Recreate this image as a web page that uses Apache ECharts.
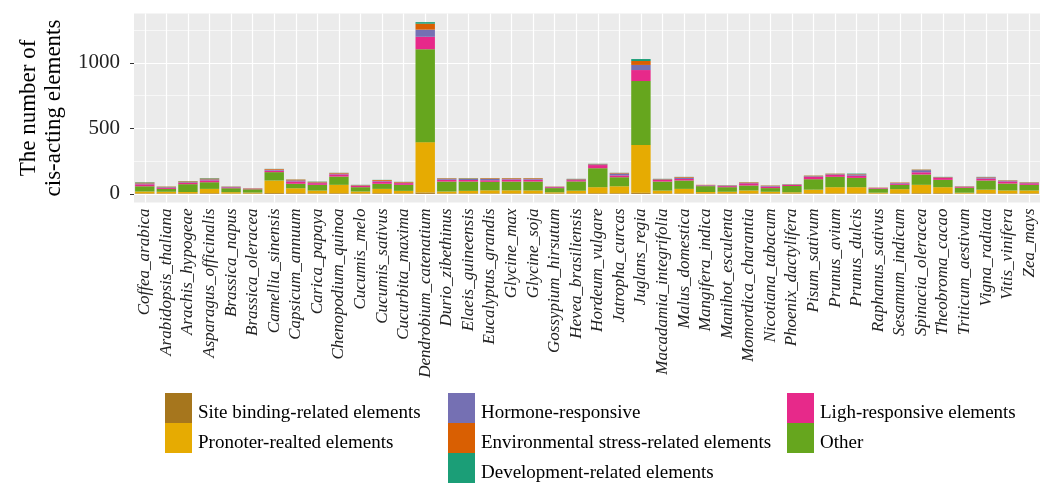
<!DOCTYPE html>
<html>
<head>
<meta charset="utf-8">
<script src="https://cdn.jsdelivr.net/npm/echarts@6/dist/echarts.min.js"></script>
<style>
  html, body { margin: 0; padding: 0; background: #fff; }
  #chart { width: 1050px; height: 484px; }
</style>
</head>
<body>
<div id="chart"></div>
<script>
// species on the x axis
var species = ['Coffea_arabica', 'Arabidopsis_thaliana', 'Arachis_hypogeae', 'Asparagus_officinalis',
  'Brassica_napus', 'Brassica_oleracea', 'Camellia_sinensis', 'Capsicum_annuum', 'Carica_papaya',
  'Chenopodium_quinoa', 'Cucumis_melo', 'Cucumis_sativus', 'Cucurbita_maxima', 'Dendrobium_catenatium',
  'Durio_zibethinus', 'Elaeis_guineensis', 'Eucalyptus_grandis', 'Glycine_max', 'Glycine_soja',
  'Gossypium_hirsutum', 'Hevea_brasiliensis', 'Hordeum_vulgare', 'Jatropha_curcas', 'Juglans_regia',
  'Macadamia_integrifolia', 'Malus_domestica', 'Mangifera_indica', 'Manihot_esculenta',
  'Momordica_charantia', 'Nicotiana_tabacum', 'Phoenix_dactylifera', 'Pisum_sativum', 'Prunus_avium',
  'Prunus_dulcis', 'Raphanus_sativus', 'Sesamum_indicum', 'Spinacia_oleracea', 'Theobroma_cacao',
  'Triticum_aestivum', 'Vigna_radiata', 'Vitis_vinifera', 'Zea_mays'];

// counts per element class
var siteBinding = [4, 4, 4, 5, 3, 4, 6, 5, 4, 5, 4, 5, 4, 10, 4, 4, 4, 4, 4, 4, 4, 5, 5, 8,
  4, 4, 4, 4, 4, 4, 4, 4, 4, 4, 3, 4, 5, 5, 3, 4, 4, 4];
var pronoter = [14, 12, 10, 33, 10, 6, 96, 38, 21, 64, 14, 33, 19, 385, 14, 19, 23, 23, 22, 8, 20, 46, 53, 366,
  21, 34, 10, 12, 22, 12, 8, 28, 47, 47, 6, 32, 64, 46, 6, 28, 22, 22];
var other = [40, 22, 60, 51, 30, 25, 64, 34, 44, 63, 33, 39, 46, 710, 76, 71, 65, 67, 68, 32, 71, 145, 69, 488,
  69, 64, 45, 35, 38, 28, 48, 80, 79, 71, 30, 33, 79, 56, 38, 70, 53, 43];
var ligh = [15, 8, 10, 14, 7, 4, 12, 18, 13, 17, 10, 18, 13, 95, 14, 12, 12, 16, 15, 7, 10, 24, 14, 84,
  12, 12, 5, 8, 17, 12, 8, 18, 15, 17, 5, 10, 17, 14, 6, 15, 16, 12];
var hormone = [7, 5, 5, 8, 3, 2, 7, 8, 5, 6, 4, 5, 4, 55, 7, 8, 10, 4, 5, 3, 6, 6, 15, 39,
  5, 10, 3, 4, 3, 4, 3, 5, 5, 10, 2, 5, 16, 5, 3, 9, 5, 4];
var environmental = [6, 4, 6, 6, 2, 2, 5, 6, 5, 5, 3, 6, 5, 45, 4, 4, 5, 5, 5, 2, 3, 3, 4, 30,
  3, 5, 2, 2, 4, 3, 2, 4, 4, 3, 2, 3, 4, 3, 2, 3, 3, 3];
var development = [3, 1, 2, 3, 1, 0, 1, 1, 2, 1, 1, 1, 1, 12, 1, 2, 1, 1, 1, 0, 1, 1, 1, 15,
  1, 1, 0, 1, 1, 1, 1, 1, 1, 3, 0, 0, 1, 1, 0, 1, 1, 1];

var yTicks = [0, 500, 1000];
var yMinorTicks = [250, 750, 1250];

var serif = '"Liberation Serif", "DejaVu Serif", serif';

// stacking order bottom -> top, like the ggplot figure
var layers = [
  { name: 'Site binding-related elements', data: siteBinding, color: '#A6761D' },
  { name: 'Pronoter-realted elements', data: pronoter, color: '#E6AB02' },
  { name: 'Other', data: other, color: '#66A61E' },
  { name: 'Ligh-responsive elements', data: ligh, color: '#E7298A' },
  { name: 'Hormone-responsive', data: hormone, color: '#7570B3' },
  { name: 'Environmental stress-related elements', data: environmental, color: '#D95F02' },
  { name: 'Development-related elements', data: development, color: '#1B9E77' }
];

var series = layers.map(function (l) {
  return {
    name: l.name,
    type: 'bar',
    stack: 'total',
    barCategoryGap: '10%',
    itemStyle: { color: l.color },
    emphasis: { disabled: true },
    z: 3,
    data: l.data
  };
});

// panel grid lines (ggplot style) drawn behind the bars
var gridLines = [];
yTicks.forEach(function (v) { gridLines.push({ yAxis: v, lineStyle: { width: 1.2 } }); });
yMinorTicks.forEach(function (v) { gridLines.push({ yAxis: v, lineStyle: { width: 0.6 } }); });
species.forEach(function (s) { gridLines.push({ xAxis: s, lineStyle: { width: 1.2 } }); });
series.push({
  type: 'line',
  data: [],
  z: 1,
  silent: true,
  markLine: {
    z: 1,
    silent: true,
    symbol: 'none',
    label: { show: false },
    animation: false,
    lineStyle: { color: '#ffffff', type: 'solid' },
    data: gridLines
  }
});

function legendCol(names, left) {
  return {
    data: names,
    orient: 'vertical',
    left: left,
    top: 393,
    bottom: 0,
    padding: 0,
    itemGap: 0,
    itemWidth: 27,
    itemHeight: 30,
    icon: 'rect',
    selectedMode: false,
    formatter: function (n) { return '{t|' + n + '}'; },
    textStyle: {
      fontFamily: serif, fontSize: 19, color: '#000',
      rich: { t: { fontFamily: serif, fontSize: 19, lineHeight: 18, color: '#000', padding: [10, 0, 0, 1] } }
    }
  };
}

var chart = echarts.init(document.getElementById('chart'), null, { renderer: 'canvas' });
chart.setOption({
  animation: false,
  backgroundColor: '#ffffff',
  grid: {
    left: 134,
    right: 10,
    top: 13.5,
    bottom: 281.5,
    show: true,
    backgroundColor: '#EBEBEB',
    borderWidth: 0
  },
  legend: [
    legendCol(['Site binding-related elements', 'Pronoter-realted elements'], 165),
    legendCol(['Hormone-responsive', 'Environmental stress-related elements', 'Development-related elements'], 448),
    legendCol(['Ligh-responsive elements', 'Other'], 787)
  ],
  xAxis: {
    type: 'category',
    data: species,
    axisLine: { show: false },
    axisTick: { show: true, alignWithLabel: true, length: 4, lineStyle: { color: '#333' } },
    axisLabel: {
      interval: 0,
      rotate: 90,
      margin: 6,
      fontFamily: serif,
      fontStyle: 'italic',
      fontSize: 17,
      color: '#222'
    },
    splitLine: { show: false }
  },
  yAxis: {
    type: 'value',
    min: -66,
    max: 1378,
    name: 'The number of\ncis-acting elements',
    nameLocation: 'middle',
    nameGap: 68,
    nameRotate: 90,
    nameTextStyle: { fontFamily: serif, fontSize: 23, color: '#000', lineHeight: 25, align: 'center' },
    axisLine: { show: false },
    axisTick: { show: true, length: 4, customValues: yTicks, lineStyle: { color: '#333' } },
    axisLabel: {
      customValues: yTicks,
      margin: 14,
      fontFamily: serif,
      fontSize: 21,
      color: '#222',
      formatter: function (v) { return String(v); }
    },
    splitLine: { show: false }
  },
  series: series
});
</script>
</body>
</html>
